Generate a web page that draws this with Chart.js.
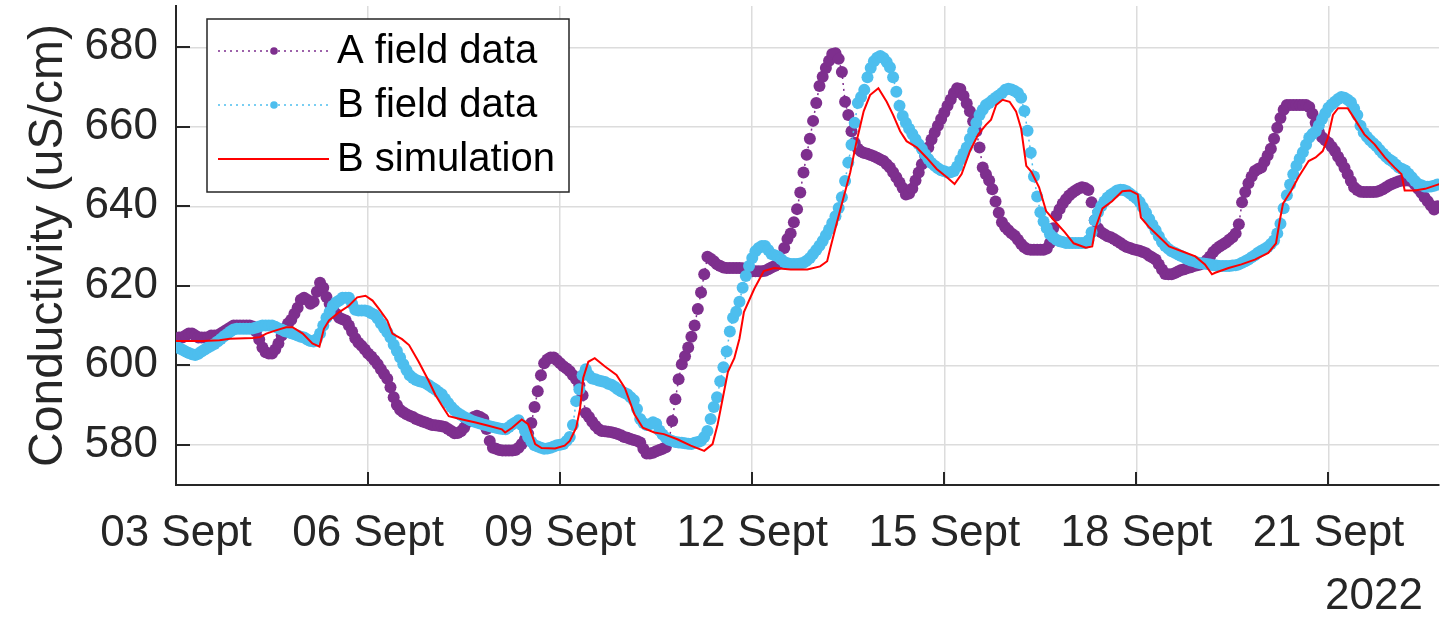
<!DOCTYPE html>
<html><head><meta charset="utf-8">
<script src="https://cdn.jsdelivr.net/npm/chart.js@4.4.0/dist/chart.umd.min.js"></script>
<style>html,body{margin:0;padding:0;background:#fff;overflow:hidden}#wrap{width:1445px;height:631px;position:relative}</style>
</head><body><div id="wrap"><canvas id="c" width="1445" height="631"></canvas></div>
<script>
// sampling of the field series (day of September, step in days)
const startDay = 3.0;
const sampleStep = 0.05;

// A field data, one row per day (3 Sept .. 22 Sept)
const aFieldData = [
 606.5,607,607,607.5,608,608,607.5,607,607,607,607,607.5,607.5,607.5,608,608.5,609,609.5,610,610,
 610,610,610,610,609.8,608.5,606.5,604.5,603.3,603,603,604,605.5,607.5,609.3,610.5,611.5,613,614.5,616.5,
 617,616.5,615.5,616,618.5,620.8,619.5,617.2,615.5,614,613,612,611.6,611.3,610,608.5,606.8,605.7,604.9,604,
 603,602.2,601.3,600.3,599,597.8,596.6,594.5,592,590,588.8,588.2,587.7,587.3,587,586.5,586.2,585.9,585.6,585.3,
 585,584.9,584.8,584.7,584.5,584,583.5,582.9,583,583.4,584.3,585.7,586.5,587,587.3,587,586.5,584,581,579.3,
 579,578.7,578.6,578.6,578.6,578.6,578.7,579.3,580.2,581.4,582.8,585.5,589.5,593.5,597.5,600.5,601.5,602,602,601.3,
 600.5,599.8,599.2,598.5,597.5,596.5,595,592.5,588,587,585.8,584.8,584,583.5,583.4,583.3,583.2,583,582.7,582.4,
 582,581.8,581.5,581.2,581,580.6,579,577.8,577.8,578,578.4,578.7,579,579.4,581,586,591.5,596.5,600.3,602.3,
 604.5,607.2,610,614.2,618.3,622.9,627.3,626.8,626.2,625.4,625,624.6,624.5,624.5,624.5,624.5,624.5,624.4,624.2,623.8,
 623.7,623.7,623.7,623.7,623.8,624.2,624.6,625,625.4,626.5,629.5,631.8,633.2,636,639.3,643.5,648.5,653,657,661.5,
 666,670.3,672.6,674.8,676.6,678.3,678.5,677.1,673.8,666.3,663,658.9,656,654.5,653.8,653.4,653.2,652.9,652.6,652.2,
 651.8,651.4,650.6,649.8,648.6,647.3,646,644.6,643,643.2,644.5,646.5,648.5,650.6,652.7,654.8,656.8,658.6,660.3,662,
 663.6,665.3,666.9,668.5,669.7,669.5,667.8,665.9,663.9,661.4,658.9,654.8,649.8,648.1,646.5,644.3,641.2,638.4,636,634.8,
 634,633.2,632.6,631.6,630.5,629.7,629.2,629.1,629.1,629.1,629.1,629.1,629.4,630.8,634.5,637.7,639.3,640.7,641.8,642.7,
 643.4,644,644.5,644.8,644.6,644.1,641,636.5,634.5,633.5,633,632.5,632.2,631.8,631.3,630.8,630.2,629.8,629.5,629.2,
 629,628.8,628.5,628.2,627.6,627.1,626.6,625.4,624.1,623,622.9,622.9,623.2,623.6,624,624.2,624.5,624.7,625,625.2,
 625.4,625.7,626.5,627.4,628.5,629.3,629.9,630.4,630.9,631.6,632.2,633.2,635.5,641,643.6,645.8,647.5,648.9,649.4,649.8,
 651.2,652.8,654.5,657,659.8,662.2,664.3,665.5,665.5,665.5,665.5,665.5,665.5,665.5,665,663.3,661,658.7,657.4,656.6,
 656,655,653.9,652.5,651.2,649.7,648.1,646.4,644.8,644.1,643.7,643.6,643.6,643.6,643.6,643.7,643.9,644.3,644.8,645.3,
 645.7,646,646.3,646.5,646.5,646.5,646.4,645.5,644.4,643.4,642.3,641.3,640.2,639.2,640
];

// B field data, one row per day (3 Sept .. 22 Sept)
const bFieldData = [
 604.8,604.3,603.9,603.5,603.1,602.8,602.6,602.9,603.5,604,604.5,604.9,605.4,606,606.6,607.3,607.9,608.5,609,609.2,
 609.2,609.2,609.2,609.2,609.3,609.5,609.8,610,610,610,610,609.7,609.3,609,608.6,608.4,608.1,607.8,607.5,607.2,
 607,606.5,606.1,606,606.6,608,610,612,613.5,615,615.8,616.3,617,617,617,615.5,614,613.8,613.8,613.8,
 613.6,613.1,612.7,611.8,610.5,609.4,608.3,607,605.2,603.6,602,600.3,598.8,597.5,596.8,596.3,596,595.8,595.5,595,
 594.4,593.9,593.3,592.7,591.6,590.5,589.5,588.7,588,587.5,587,586.6,586.2,585.9,585.6,585.4,585.1,584.9,584.7,584.5,
 584.3,584.1,584,583.9,584.5,585.1,585.6,586.2,585,583.5,582,580.8,579.9,579.6,579.3,579,579.1,579.3,579.6,579.9,
 580,580.2,581,582,585,591,594,597.5,599,597.5,596.7,596.5,596.2,596,595.8,595.4,595.1,594.6,594,593.5,
 593.1,592.7,592,591.2,589,586.5,585.5,585,585.2,585.7,585.3,583.6,582.6,581.8,581.3,581,580.7,580.6,580.5,580.4,
 580.3,580.2,580.5,580.7,581,582,583.5,586.5,589.5,592,596,599.5,603.5,608.5,612,613.5,616,619.5,622.5,625,
 627,628.7,629.5,630,630,629,628,627.7,627.4,626.7,626,625.7,625.5,625.5,625.5,625.6,625.8,626.3,627,628,
 629,630.1,631.3,632.7,634.2,635.8,637.5,639.6,642.3,646.4,651,655.5,661,666,667.5,669.3,672.5,674.8,676.5,677.4,
 677.8,677.3,676.3,675,672.5,668.8,665.3,662.7,661,659.5,658.2,656.9,655.6,654.4,653.1,651.9,650.9,650.2,649.6,649.1,
 648.8,648.5,648.6,648.9,650,651.7,653.3,654.8,657,658.9,661,663,664.3,665.5,666,666.7,667.3,667.9,668.5,669.3,
 669.6,669.4,669,668.5,667.3,664,659,653.5,647.5,642.5,638.5,636.2,634.5,633,632.2,631.6,631.2,631,630.8,630.8,
 630.8,630.8,630.8,630.8,630.8,631.5,633.5,636.5,638.5,640,641.2,642.2,642.9,643.4,644,644.2,644.1,643.8,643.2,642.6,
 642,641.1,639.8,638.4,636.8,635.4,634,632.5,631,630,629.3,628.7,628.3,627.9,627.5,627.1,626.7,626.4,626.2,625.9,
 625.7,625.6,625.5,625.4,625.2,625.1,625,625,625,625,625.1,625.2,625.4,625.8,626.2,626.6,627.2,627.7,628.3,628.8,
 629.3,629.8,630.5,631.4,633.2,635.6,639.5,642.8,645.5,648.1,650.2,652,653.6,655.5,657.3,658.2,658.9,660.4,662,663.4,
 664.8,665.6,666.3,667,667.5,667.3,666.8,666.2,664.6,663,660.3,658.6,657.5,656.6,655.9,655.1,654.2,653.3,652.5,651.8,
 651.3,650.5,649.8,649.4,649,648.2,647.3,646.4,645.6,645.3,645,644.9,645,645.2,645.5
];

const simTime = [
 3.0,3.42,3.68,3.84,4.20,4.31,4.41,4.56,4.72,4.82,4.98,5.13,5.24,5.31,5.39,5.55,5.70,5.83,5.96,
 6.07,6.17,6.30,6.38,6.53,6.64,6.79,6.95,7.05,7.16,7.26,7.47,7.68,7.88,8.09,8.14,8.25,8.40,8.50,
 8.61,8.71,8.92,9.07,9.15,9.25,9.31,9.36,9.44,9.54,9.70,9.88,10.01,10.16,10.29,10.47,10.62,10.83,
 11.04,11.25,11.38,11.46,11.54,11.62,11.72,11.80,11.87,12.03,12.18,12.34,12.60,12.86,13.06,13.17,
 13.22,13.32,13.43,13.53,13.63,13.74,13.84,13.97,14.10,14.20,14.31,14.41,14.57,14.72,14.88,15.04,
 15.16,15.27,15.40,15.53,15.65,15.73,15.81,15.91,16.02,16.12,16.20,16.28,16.36,16.48,16.59,16.74,
 16.88,17.02,17.21,17.31,17.36,17.47,17.62,17.78,17.90,18.02,18.07,18.19,18.35,18.51,18.71,18.92,
 19.07,19.18,19.23,19.44,19.64,19.85,20.06,20.18,20.24,20.29,20.42,20.53,20.69,20.80,20.91,20.99,
 21.07,21.15,21.30,21.40,21.56,21.72,21.88,22.03,22.14,22.19,22.35,22.51,22.66,22.73
];
const simValue = [
 606.1,606.1,606.3,606.7,606.9,607.1,608,608.8,609.6,609.6,608,605.5,604.7,609.2,611.3,613.4,615,617.1,617.5,
 616.3,614.2,611.3,608,606.6,605.1,600.9,596,592.6,589.7,587.2,586.4,585.6,584.8,583.9,583.1,584.3,586.4,585.2,
 580.2,579.2,579.1,579.8,581,584.3,589,596.8,600.9,601.8,599.7,597.6,594.3,587.7,584.3,583.1,582.7,581.4,
 579.8,578.5,580.2,585.2,591.8,598.4,601.8,606.7,613.4,619.2,623.7,624.5,624.1,624.1,624.9,626.2,
 629.5,635.8,642.5,648.5,656.4,663.9,668,669.7,666.3,663,658.9,656.4,654.8,652.3,649.4,647.3,
 645.6,648.1,653.9,658.1,660.5,661.8,665.5,666.8,666.3,663.9,659.5,650.2,648.7,644.8,638.8,636,
 633.5,630.7,629.6,629.9,634.5,639.5,641.3,643.8,644,643,637.2,634.9,632.4,629.9,628.7,627.4,
 625.4,622.9,623.3,624.5,625.4,626.6,628.3,630.7,636.5,640.7,644,647.3,651.4,652.3,653.9,657.2,
 663,664.7,664.7,662.2,658.1,655.6,652.3,649.8,648.1,644,644,644.4,645.2,645.6
];

const xTickValues = [3, 6, 9, 12, 15, 18, 21];
const xTickLabels = ['03 Sept', '06 Sept', '09 Sept', '12 Sept', '15 Sept', '18 Sept', '21 Sept'];
const yTickValues = [580, 600, 620, 640, 660, 680];
const seriesNames = ['A field data', 'B field data', 'B simulation'];
const seriesColors = ['#7E2F8E', '#4DBEEE', '#FF0000'];
const yAxisTitle = 'Conductivity (uS/cm)';
const yearLabel = '2022';

const FONT = "'Liberation Sans', Arial, Helvetica, sans-serif";
const AX = '#262626';

const toPoints = arr => arr.map((v, i) => ({x: startDay + i * sampleStep, y: v}));
const simPoints = simTime.map((t, i) => ({x: t, y: simValue[i]}));

const inwardTicks = {
  id: 'inwardTicks',
  beforeDatasetsDraw(chart) {
    const {ctx, chartArea: a, scales: {x, y}} = chart;
    ctx.save();
    ctx.strokeStyle = AX; ctx.lineWidth = 2;
    x.ticks.forEach(t => { const p = Math.round(x.getPixelForValue(t.value)); ctx.beginPath(); ctx.moveTo(p, a.bottom); ctx.lineTo(p, a.bottom - 13); ctx.stroke(); });
    y.ticks.forEach(t => { const p = Math.round(y.getPixelForValue(t.value)); ctx.beginPath(); ctx.moveTo(a.left, p); ctx.lineTo(a.left + 14, p); ctx.stroke(); });
    ctx.restore();
  }
};

const boxLegend = {
  id: 'boxLegend',
  afterDatasetsDraw(chart) {
    const ctx = chart.ctx;
    const bx = 207, by = 19, bw = 362, bh = 173;
    ctx.save();
    ctx.fillStyle = '#fff'; ctx.fillRect(bx, by, bw, bh);
    ctx.strokeStyle = AX; ctx.lineWidth = 1.5; ctx.strokeRect(bx, by, bw, bh);
    const rows = [51, 105, 159];
    chart.data.datasets.forEach((ds, i) => {
      const yy = rows[i];
      ctx.strokeStyle = ds.borderColor; ctx.lineWidth = ds.borderWidth;
      ctx.setLineDash(ds.borderDash || []);
      ctx.beginPath(); ctx.moveTo(218, yy); ctx.lineTo(329, yy); ctx.stroke();
      ctx.setLineDash([]);
      if (ds.pointRadius > 0) {
        ctx.fillStyle = ds.backgroundColor;
        ctx.beginPath(); ctx.arc(274, yy, 3.8, 0, Math.PI * 2); ctx.fill();
      }
      ctx.fillStyle = '#000'; ctx.font = '40px ' + FONT; ctx.textBaseline = 'middle'; ctx.textAlign = 'left';
      ctx.fillText(ds.label, 337, yy + 1);
    });
    ctx.restore();
  }
};

const yearText = {
  id: 'yearText',
  afterDraw(chart) {
    const ctx = chart.ctx;
    ctx.save();
    ctx.fillStyle = AX; ctx.font = '44px ' + FONT; ctx.textAlign = 'right'; ctx.textBaseline = 'middle';
    ctx.fillText(yearLabel, 1423, 597);
    ctx.restore();
  }
};

new Chart(document.getElementById('c'), {
  type: 'line',
  data: {
    datasets: [
      { label: seriesNames[0], data: toPoints(aFieldData), borderColor: seriesColors[0], backgroundColor: seriesColors[0],
        borderWidth: 1.5, borderDash: [2, 4], pointRadius: 6, pointBorderWidth: 0, pointHoverRadius: 6, order: 2 },
      { label: seriesNames[1], data: toPoints(bFieldData), borderColor: seriesColors[1], backgroundColor: seriesColors[1],
        borderWidth: 1.5, borderDash: [2, 4], pointRadius: 6, pointBorderWidth: 0, pointHoverRadius: 6, order: 1 },
      { label: seriesNames[2], data: simPoints, borderColor: seriesColors[2], backgroundColor: seriesColors[2],
        borderWidth: 2, pointRadius: 0, order: 0 }
    ]
  },
  options: {
    responsive: false, animation: false, devicePixelRatio: 1,
    layout: { padding: 0 },
    plugins: { legend: { display: false }, tooltip: { enabled: false }, title: { display: false } },
    scales: {
      x: {
        type: 'linear', min: 3, max: 22.726,
        afterBuildTicks: s => { s.ticks = xTickValues.map(v => ({value: v})); },
        afterFit: s => { s.height = 146; s.paddingLeft = 0; s.paddingRight = 0; },
        ticks: { callback: (v) => xTickLabels[xTickValues.indexOf(v)], color: AX, font: { family: FONT, size: 44 }, padding: 22, maxRotation: 0, autoSkip: false },
        grid: { color: '#dcdcdc', lineWidth: 1.5, drawTicks: false },
        border: { display: true, color: AX, width: 2 }
      },
      y: {
        type: 'linear', min: 569.9, max: 690.4,
        afterBuildTicks: s => { s.ticks = yTickValues.map(v => ({value: v})); },
        afterFit: s => { s.width = 176; s.paddingTop = 0; s.paddingBottom = 0; },
        ticks: { callback: v => String(v), color: AX, font: { family: FONT, size: 44 }, padding: 18 },
        grid: { color: '#dcdcdc', lineWidth: 1.5, drawTicks: false },
        border: { display: true, color: AX, width: 2 },
        title: { display: true, text: yAxisTitle, color: AX, font: { family: FONT, size: 48 }, padding: { top: 20, bottom: 0 } }
      }
    }
  },
  plugins: [inwardTicks, boxLegend, yearText]
});
</script></body></html>
